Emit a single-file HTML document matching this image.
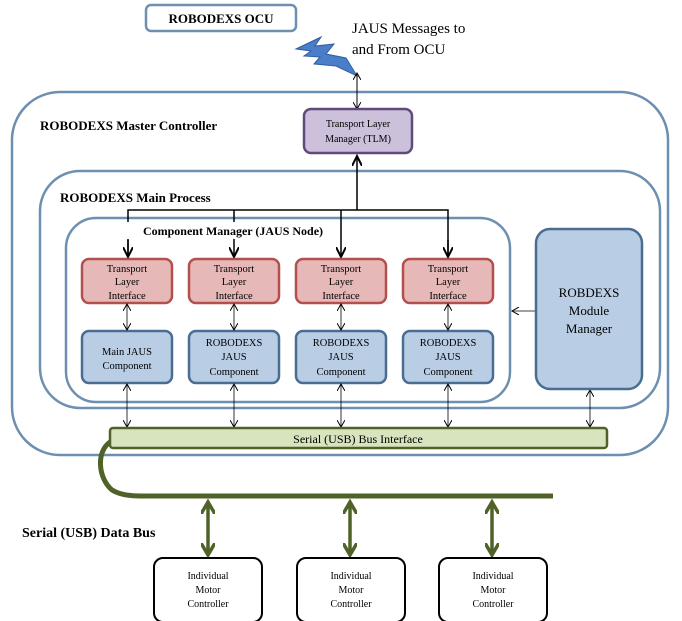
<!DOCTYPE html>
<html><head><meta charset="utf-8"><style>
body{margin:0;background:#fff;}
svg{display:block;font-family:"Liberation Serif",serif;}
</style></head><body>
<svg width="682" height="621" viewBox="0 0 682 621" xmlns="http://www.w3.org/2000/svg">
<defs>
<marker id="a" markerWidth="8" markerHeight="8" refX="7" refY="4" orient="auto-start-reverse" markerUnits="userSpaceOnUse"><path d="M0,0 L7,4 L0,8" fill="none" stroke="#000" stroke-width="1"/></marker>
<marker id="b" markerWidth="12" markerHeight="10" refX="10" refY="5" orient="auto" markerUnits="userSpaceOnUse"><path d="M0,0 L10,5 L0,10" fill="none" stroke="#000" stroke-width="2"/></marker>
<marker id="g" markerWidth="16" markerHeight="14" refX="12" refY="7" orient="auto-start-reverse" markerUnits="userSpaceOnUse"><path d="M0,0 L12,7 L0,14" fill="none" stroke="#4f6228" stroke-width="3.5"/></marker>
</defs>
<rect x="146" y="5" width="150" height="26" rx="5" fill="#fff" stroke="#6d8fb0" stroke-width="2.5"/>
<text x="221" y="23" text-anchor="middle" font-size="13" font-weight="bold">ROBODEXS  OCU</text>
<polygon points="296,49 321,37 315,46 334,44 326,54 346,58 357,76 336,66 314,64 320,57 304,56 311,51" fill="#4a7ec8" stroke="#2f5f9e" stroke-width="1"/>
<text x="352" y="33" font-size="15">JAUS Messages to</text>
<text x="352" y="54" font-size="15">and From OCU</text>
<rect x="12" y="92" width="656" height="363" rx="48" fill="#fff" stroke="#6d8fb0" stroke-width="2.5"/>
<text x="40" y="130" font-size="13" font-weight="bold">ROBODEXS Master Controller</text>
<line x1="357" y1="73" x2="357" y2="109" stroke="#000" marker-start="url(#a)" marker-end="url(#a)"/>
<rect x="304" y="109" width="108" height="44" rx="7" fill="#ccc0da" stroke="#5f4a7b" stroke-width="2.5"/>
<text x="358" y="127" text-anchor="middle" font-size="10">Transport Layer</text>
<text x="358" y="142" text-anchor="middle" font-size="10">Manager (TLM)</text>
<rect x="40" y="171" width="620" height="237" rx="40" fill="#fff" stroke="#6d8fb0" stroke-width="2.5"/>
<text x="60" y="202" font-size="13" font-weight="bold">ROBODEXS Main Process</text>
<rect x="66" y="218" width="444" height="184" rx="30" fill="#fff" stroke="#6d8fb0" stroke-width="2.5"/>
<line x1="357" y1="210" x2="357" y2="156" stroke="#000" stroke-width="1.5" marker-end="url(#b)"/>
<polyline points="128,259 128,210 448,210 448,259" fill="none" stroke="#000" stroke-width="1.5"/>
<line x1="234" y1="210" x2="234" y2="257" stroke="#000" stroke-width="1.5" marker-end="url(#b)"/>
<line x1="341" y1="210" x2="341" y2="257" stroke="#000" stroke-width="1.5" marker-end="url(#b)"/>
<line x1="128" y1="240" x2="128" y2="257" stroke="#000" stroke-width="1.5" marker-end="url(#b)"/>
<line x1="448" y1="240" x2="448" y2="257" stroke="#000" stroke-width="1.5" marker-end="url(#b)"/>
<rect x="126" y="222" width="214" height="17" fill="#fff"/>
<text x="233" y="235" text-anchor="middle" font-size="12" font-weight="bold">Component Manager (JAUS Node)</text>
<g font-size="10.5" text-anchor="middle">
<rect x="82" y="259" width="90" height="44" rx="7" fill="#e6b9b8" stroke="#b3504d" stroke-width="2.5"/>
<rect x="189" y="259" width="90" height="44" rx="7" fill="#e6b9b8" stroke="#b3504d" stroke-width="2.5"/>
<rect x="296" y="259" width="90" height="44" rx="7" fill="#e6b9b8" stroke="#b3504d" stroke-width="2.5"/>
<rect x="403" y="259" width="90" height="44" rx="7" fill="#e6b9b8" stroke="#b3504d" stroke-width="2.5"/>
<text x="127" y="272">Transport</text><text x="127" y="285">Layer</text><text x="127" y="299">Interface</text>
<text x="234" y="272">Transport</text><text x="234" y="285">Layer</text><text x="234" y="299">Interface</text>
<text x="341" y="272">Transport</text><text x="341" y="285">Layer</text><text x="341" y="299">Interface</text>
<text x="448" y="272">Transport</text><text x="448" y="285">Layer</text><text x="448" y="299">Interface</text>
<rect x="82" y="331" width="90" height="52" rx="7" fill="#b9cde5" stroke="#4a6d92" stroke-width="2.5"/>
<rect x="189" y="331" width="90" height="52" rx="7" fill="#b9cde5" stroke="#4a6d92" stroke-width="2.5"/>
<rect x="296" y="331" width="90" height="52" rx="7" fill="#b9cde5" stroke="#4a6d92" stroke-width="2.5"/>
<rect x="403" y="331" width="90" height="52" rx="7" fill="#b9cde5" stroke="#4a6d92" stroke-width="2.5"/>
<text x="127" y="355">Main JAUS</text><text x="127" y="369">Component</text>
<text x="234" y="346">ROBODEXS</text><text x="234" y="360">JAUS</text><text x="234" y="375">Component</text>
<text x="341" y="346">ROBODEXS</text><text x="341" y="360">JAUS</text><text x="341" y="375">Component</text>
<text x="448" y="346">ROBODEXS</text><text x="448" y="360">JAUS</text><text x="448" y="375">Component</text>
</g>
<g stroke="#000" stroke-width="0.8" marker-start="url(#a)" marker-end="url(#a)">
<line x1="127" y1="304" x2="127" y2="330"/><line x1="234" y1="304" x2="234" y2="330"/><line x1="341" y1="304" x2="341" y2="330"/><line x1="448" y1="304" x2="448" y2="330"/>
<line x1="127" y1="384" x2="127" y2="427"/><line x1="234" y1="384" x2="234" y2="427"/><line x1="341" y1="384" x2="341" y2="427"/><line x1="448" y1="384" x2="448" y2="427"/>
<line x1="590" y1="390" x2="590" y2="427"/>
</g>
<line x1="536" y1="311" x2="512" y2="311" stroke="#000" stroke-width="0.8" marker-end="url(#a)"/>
<rect x="536" y="229" width="106" height="160" rx="14" fill="#b9cde5" stroke="#4a6d92" stroke-width="2.5"/>
<text x="589" y="297" text-anchor="middle" font-size="13">ROBDEXS</text>
<text x="589" y="315" text-anchor="middle" font-size="13">Module</text>
<text x="589" y="333" text-anchor="middle" font-size="13">Manager</text>
<path d="M110,442 C96,452 98,478 112,490 C120,495 130,496 140,496 L553,496" fill="none" stroke="#4f6228" stroke-width="5"/>
<rect x="110" y="428" width="497" height="20" rx="3" fill="#d7e4bd" stroke="#4f6228" stroke-width="2.5"/>
<text x="358" y="443" text-anchor="middle" font-size="12">Serial (USB) Bus Interface</text>
<text x="22" y="537" font-size="14" font-weight="bold">Serial (USB) Data Bus</text>
<g stroke="#4f6228" stroke-width="3.5" marker-start="url(#g)" marker-end="url(#g)">
<line x1="208" y1="502" x2="208" y2="555"/><line x1="350" y1="502" x2="350" y2="555"/><line x1="492" y1="502" x2="492" y2="555"/>
</g>
<g font-size="10" text-anchor="middle">
<rect x="154" y="558" width="108" height="64" rx="9" fill="#fff" stroke="#000" stroke-width="2"/>
<rect x="297" y="558" width="108" height="64" rx="9" fill="#fff" stroke="#000" stroke-width="2"/>
<rect x="439" y="558" width="108" height="64" rx="9" fill="#fff" stroke="#000" stroke-width="2"/>
<text x="208" y="579">Individual</text><text x="208" y="593">Motor</text><text x="208" y="607">Controller</text>
<text x="351" y="579">Individual</text><text x="351" y="593">Motor</text><text x="351" y="607">Controller</text>
<text x="493" y="579">Individual</text><text x="493" y="593">Motor</text><text x="493" y="607">Controller</text>
</g>
</svg>
</body></html>
